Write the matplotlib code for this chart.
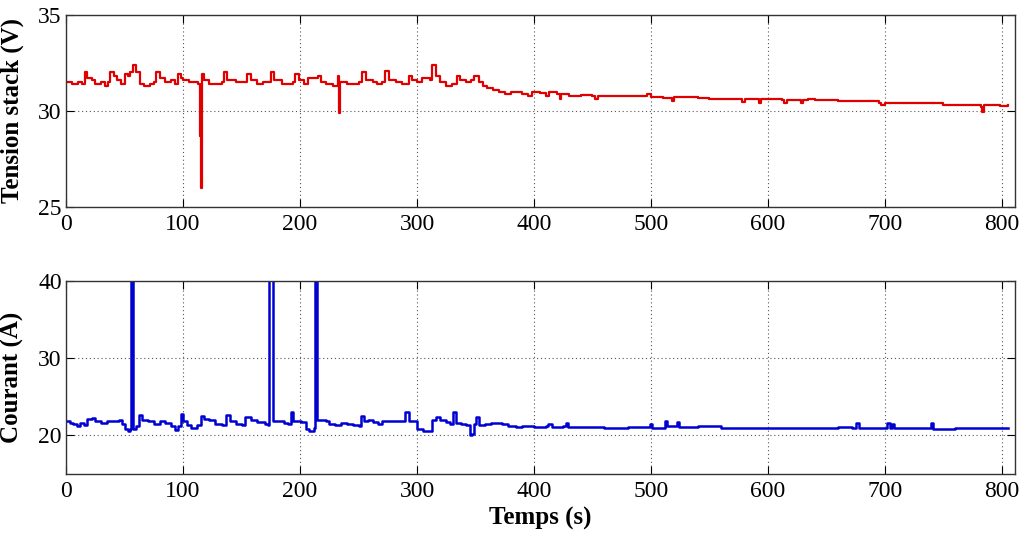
import numpy as np
import matplotlib
matplotlib.use("Agg")
from matplotlib import pyplot as plt

# tension du stack (V)
t_v = [0, 5, 10, 14, 16, 18, 22, 25, 30, 33, 36, 38, 41, 44, 47, 50, 53, 55, 57, 60,
       63, 67, 72, 75, 77, 80, 85, 90, 93, 96, 98, 100, 105, 110, 113, 114.5, 115, 116, 118, 122,
       130, 133, 135, 138, 145, 150, 153, 155, 158, 163, 168, 172, 175, 178, 185, 190, 194, 196, 199, 203,
       207, 211, 215, 218, 222, 228, 231, 232.5, 233, 234, 240, 245, 250, 253, 256, 262, 266, 270, 273, 276,
       282, 287, 291, 293, 296, 300, 304, 308, 311, 313, 316, 320, 325, 330, 334, 337, 342, 346, 349, 353,
       356, 360, 365, 370, 375, 380, 385, 390, 395, 398, 405, 410, 413, 420, 422, 423, 430, 440, 450, 452,
       455, 470, 495, 497, 500, 510, 518, 520, 540, 550, 560, 575, 578, 580, 590, 592, 594, 612, 614, 616,
       626, 628, 630, 634, 640, 660, 680, 695, 697, 700, 720, 745, 750, 760, 770, 782, 783, 785, 790, 798,
       805]
tension = [31.5, 31.4, 31.5, 31.4, 32.0, 31.7, 31.6, 31.4, 31.5, 31.3, 31.5, 32.0, 31.8, 31.6, 31.4, 31.9, 31.8, 32.0, 32.4, 32.0,
           31.4, 31.3, 31.4, 31.5, 32.0, 31.7, 31.5, 31.6, 31.4, 31.9, 31.7, 31.6, 31.5, 31.5, 31.4, 28.7, 26.0, 31.9, 31.6, 31.4,
           31.4, 31.5, 32.0, 31.6, 31.5, 31.5, 31.5, 31.9, 31.6, 31.4, 31.5, 31.5, 32.0, 31.6, 31.4, 31.4, 31.5, 31.9, 31.6, 31.4,
           31.7, 31.7, 31.8, 31.5, 31.4, 31.3, 31.3, 31.8, 29.9, 31.5, 31.4, 31.4, 31.5, 32.0, 31.6, 31.5, 31.4, 31.5, 32.1, 31.6,
           31.5, 31.4, 31.4, 31.8, 31.6, 31.5, 31.7, 31.7, 31.6, 32.4, 31.8, 31.5, 31.3, 31.4, 31.8, 31.6, 31.5, 31.6, 31.8, 31.5,
           31.3, 31.2, 31.1, 31.0, 30.9, 31.0, 31.0, 30.9, 30.8, 31.0, 30.95, 30.8, 31.0, 30.9, 30.6, 30.9, 30.8, 30.85, 30.75, 30.6,
           30.8, 30.75, 30.75, 30.9, 30.7, 30.65, 30.5, 30.7, 30.65, 30.6, 30.6, 30.6, 30.45, 30.6, 30.6, 30.4, 30.6, 30.55, 30.4, 30.55,
           30.55, 30.4, 30.55, 30.6, 30.55, 30.5, 30.5, 30.4, 30.3, 30.4, 30.4, 30.4, 30.3, 30.3, 30.3, 30.2, 29.95, 30.3, 30.3, 30.25,
           30.3]

# courant (A)
t_i = [0, 3, 6, 9, 12, 15, 18, 22, 25, 30, 35, 40, 45, 48, 50, 53, 55, 55.5, 56.5, 57,
       60, 62, 65, 70, 75, 80, 85, 90, 93, 96, 98, 100, 103, 107, 112, 115, 118, 122, 127, 133,
       137, 140, 145, 150, 153, 158, 163, 170, 173, 173.5, 176, 176.5, 180, 186, 190, 192, 194, 198, 201, 205,
       208, 210, 212, 212.5, 214, 214.5, 218, 222, 225, 230, 235, 240, 245, 250, 252, 255, 258, 262, 267, 270,
       275, 280, 285, 290, 293, 297, 300, 305, 310, 313, 316, 320, 325, 328, 331, 333, 338, 342, 345, 347,
       349, 350, 353, 358, 363, 368, 373, 378, 385, 390, 400, 410, 412, 415, 425, 427, 429, 440, 460, 480,
       497, 499, 501, 510, 512, 514, 520, 522, 524, 540, 560, 580, 600, 620, 640, 660, 672, 675, 678, 690,
       700, 702, 704, 706, 708, 720, 737, 739, 741, 760, 780, 800, 805]
courant = [21.8, 21.6, 21.4, 21.2, 21.6, 21.3, 22.1, 22.2, 21.8, 21.6, 21.8, 21.9, 22.0, 21.5, 20.8, 20.6, 20.8, 45, 45, 20.8,
           21.2, 22.6, 22.0, 21.8, 21.5, 21.8, 21.6, 21.2, 20.7, 21.2, 22.7, 21.8, 21.3, 21.0, 21.3, 22.5, 22.1, 22.0, 21.5, 21.3,
           22.6, 21.9, 21.5, 21.3, 22.3, 22.0, 21.7, 21.4, 21.3, 45, 45, 21.8, 21.8, 21.6, 21.5, 23.0, 21.9, 21.9, 21.7, 20.8,
           20.6, 20.6, 21.0, 45, 45, 22.0, 22.0, 21.8, 21.5, 21.3, 21.6, 21.5, 21.3, 21.2, 22.5, 21.9, 22.0, 21.7, 21.5, 21.9,
           21.8, 21.9, 21.8, 23.0, 21.9, 21.8, 20.8, 20.5, 20.6, 22.0, 22.3, 22.0, 21.7, 21.5, 23.0, 21.6, 21.5, 21.3, 20.0, 20.1,
           21.5, 22.3, 21.3, 21.5, 21.6, 21.6, 21.5, 21.2, 21.1, 21.2, 21.1, 21.2, 21.5, 21.1, 21.2, 21.6, 21.1, 21.1, 21.0, 21.1,
           21.1, 21.5, 21.0, 21.0, 21.9, 21.2, 21.2, 21.7, 21.1, 21.2, 21.0, 20.9, 21.0, 21.0, 21.0, 21.1, 21.0, 21.6, 21.0, 21.0,
           20.9, 21.6, 21.0, 21.5, 21.0, 21.0, 21.0, 21.6, 20.8, 21.0, 21.0, 20.9, 21.0]

plt.rcParams['font.family'] = ['Liberation Serif', 'DejaVu Serif']
plt.rcParams['font.size'] = 18

fig = plt.figure(figsize=(10.22, 5.33), dpi=100)
ax1 = fig.add_axes([0.0646, 0.612, 0.9284, 0.360])
ax2 = fig.add_axes([0.0646, 0.111, 0.9284, 0.362])

ax1.plot(t_v, tension, color='#e00000', lw=1.6, drawstyle='steps-post')
ax2.plot(t_i, courant, color='#0000d0', lw=1.8, drawstyle='steps-post')

ax1.set_ylim(25, 35)
ax1.set_yticks([25, 30, 35])
ax2.set_ylim(15, 40)
ax2.set_yticks([20, 30, 40])

for ax in (ax1, ax2):
    ax.set_xlim(0, 811)
    ax.set_xticks(np.arange(0, 801, 100))
    ax.grid(True, color='#555555', linestyle=(0, (1, 2.5)), linewidth=0.8)
    ax.tick_params(direction='in', length=6, top=True, right=True, labelsize=17)
    ax.tick_params(axis='x', pad=5)
    ax.tick_params(axis='y', pad=3)
    for s in ax.spines.values():
        s.set_color('#333333')
        s.set_linewidth(1.0)

ax1.set_ylabel('Tension stack (V)', fontsize=18, fontweight='bold')
ax2.set_ylabel('Courant (A)', fontsize=18, fontweight='bold')
ax2.set_xlabel('Temps (s)', fontsize=18, fontweight='bold', labelpad=0)
ax1.yaxis.set_label_coords(-0.044, 0.5)
ax2.yaxis.set_label_coords(-0.044, 0.5)
ax2.xaxis.set_label_coords(0.5, -0.17)

fig.savefig('out.png', dpi=100)
